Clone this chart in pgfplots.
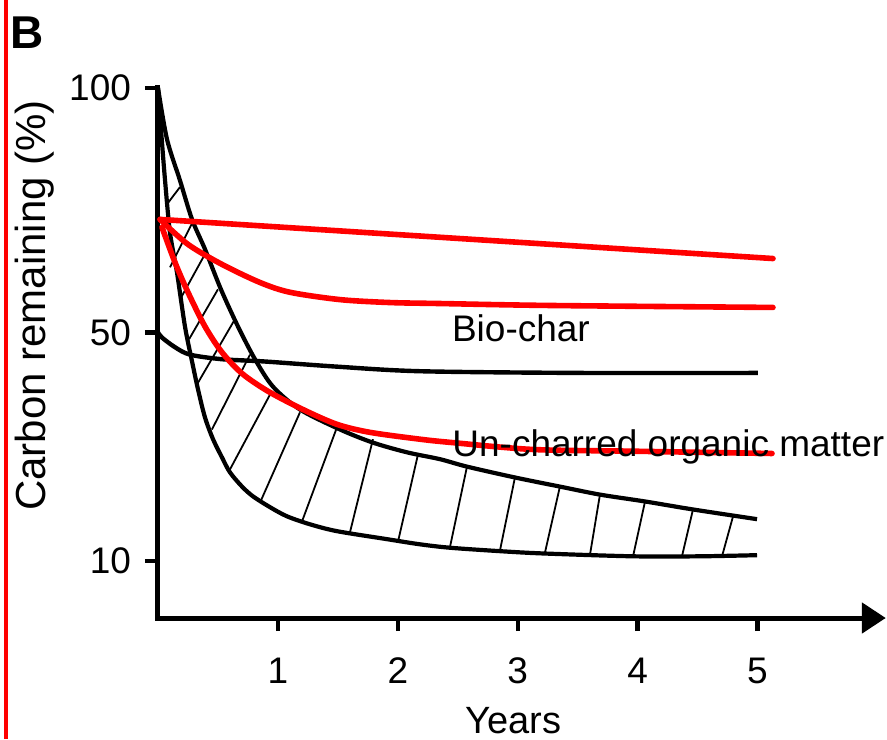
\documentclass[border=0pt]{standalone}
\usepackage{pgfplots}
\pgfplotsset{compat=1.18}
\usepackage{pgfplotstable}
\usepackage{fontspec}
\setmainfont{Liberation Sans}
\usetikzlibrary{arrows.meta}

% Carbon remaining (%) against years
\pgfplotstableread{
x y
0     100
0.075 89.5
0.183 81.1
0.284 73.1
0.392 67.0
0.525 58.8
0.667 51.2
0.809 45.3
0.959 40.5
1.184 36.5
1.518 33.0
1.793 30.7
2.077 29.0
2.352 27.8
2.577 26.5
2.977 24.6
3.353 23.0
3.686 21.6
4.062 20.4
4.462 19.0
4.996 17.3
}\uncharredhigh

\pgfplotstableread{
x y
0     100
0.025 91.5
0.058 81.3
0.100 70.4
0.158 62.3
0.225 51.2
0.284 44.9
0.334 40.0
0.392 35.1
0.459 31.3
0.534 28.1
0.600 25.5
0.701 23.0
0.792 21.3
0.934 19.4
1.076 17.8
1.268 16.4
1.493 15.2
1.910 13.8
2.185 12.9
2.435 12.3
2.852 11.7
3.211 11.3
3.962 10.8
4.520 10.8
4.996 11.0
}\uncharredlow

\pgfplotstableread{
x y
0     50
0.033 49.1
0.142 47.4
0.267 46.1
0.534 45.3
0.892 44.9
1.493 44.0
2.185 43.2
3.520 42.9
5.004 42.9
}\biochar

\pgfplotstableread{
x y
0.017 73.1
5.129 65.1
}\redtop

\pgfplotstableread{
x y
0.017 73.1
0.250 68.0
0.534 63.9
0.851 60.2
1.101 58.2
1.518 56.7
1.935 56.1
2.352 55.9
3.269 55.5
5.129 55.1
}\redmid

\pgfplotstableread{
x y
0.033 71.5
0.142 64.3
0.250 58.2
0.392 51.2
0.534 46.5
0.701 42.8
0.917 39.7
1.209 36.5
1.493 33.9
1.768 32.5
2.185 31.3
2.460 30.7
3.128 29.5
3.962 29.2
5.121 28.8
}\redlow

\begin{document}
\begin{tikzpicture}
\path[use as bounding box] (-79pt,-60.5pt) rectangle (364.5pt,309pt);
\begin{axis}[
  at={(0pt,0pt)}, anchor=south west,
  x=59.95pt, y=0.5pt,
  xmin=0, xmax=6.07, ymin=0, ymax=100,
  y coord trafo/.code={\pgfmathparse{(#1<50) ? (#1-50)*5.7125 : (#1-50)*4.89}},
  y coord inv trafo/.code={\pgfmathparse{(#1<0) ? #1/5.7125+50 : #1/4.89+50}},
  axis x line*=bottom, axis y line*=left,
  axis line style={line width=2.5pt, line cap=rect},
  x axis line style={-{Triangle[length=12pt,width=15pt]}},
  xtick={1,2,3,4,5},
  ytick={10,50,100}, yticklabels={10,50,100},
  tick align=outside, major tick length=6.5pt,
  tick style={line width=2.2pt, black},
  xticklabel shift=10pt, yticklabel shift=3.5pt,
  /pgf/number format/assume math mode=true,
  ticklabel style={font=\fontsize{18.5}{22}\selectfont},
  xlabel={Years}, ylabel={Carbon remaining (\%)},
  every axis x label/.style={at={(axis description cs:0.4885,-0.217)}, anchor=base,
    inner sep=0pt, font=\fontsize{19}{22}\selectfont},
  every axis y label/.style={at={(axis description cs:-0.169,0.5895)}, anchor=center,
    rotate=90, font=\fontsize{21}{25}\selectfont},
  clip=false,
]
% hatching between the two bounds of un-charred matter
\addplot[black, line width=0.9pt] coordinates {(0.075,76.2) (0.183,79.7)};
\addplot[black, line width=0.9pt] coordinates {(0.100,63.3) (0.292,72.7)};
\addplot[black, line width=0.9pt] coordinates {(0.183,56.7) (0.392,66.0)};
\addplot[black, line width=0.9pt] coordinates {(0.259,48.8) (0.500,58.8)};
\addplot[black, line width=0.9pt] coordinates {(0.334,41.2) (0.642,52.7)};
\addplot[black, line width=0.9pt] coordinates {(0.450,33.0) (0.767,46.1)};
\addplot[black, line width=0.9pt] coordinates {(0.600,26.0) (0.934,39.1)};
\addplot[black, line width=0.9pt] coordinates {(0.851,20.2) (1.184,36.0)};
\addplot[black, line width=0.9pt] coordinates {(1.201,16.9) (1.493,33.4)};
\addplot[black, line width=0.9pt] coordinates {(1.601,15.0) (1.793,31.3)};
\addplot[black, line width=0.9pt] coordinates {(2.002,13.4) (2.168,28.6)};
\addplot[black, line width=0.9pt] coordinates {(2.435,12.4) (2.577,26.5)};
\addplot[black, line width=0.9pt] coordinates {(2.852,11.8) (2.977,24.6)};
\addplot[black, line width=0.9pt] coordinates {(3.228,11.5) (3.353,23.1)};
\addplot[black, line width=0.9pt] coordinates {(3.603,11.1) (3.686,21.6)};
\addplot[black, line width=0.9pt] coordinates {(3.962,10.8) (4.062,20.4)};
\addplot[black, line width=0.9pt] coordinates {(4.370,10.8) (4.462,19.0)};
\addplot[black, line width=0.9pt] coordinates {(4.704,10.8) (4.796,17.8)};
% bounds and bio-char
\addplot[black, line width=2.1pt, smooth, tension=0.5] table {\uncharredhigh};
\addplot[black, line width=2.1pt, smooth, tension=0.5] table {\uncharredlow};
\addplot[black, line width=2.2pt, smooth, tension=0.5] table {\biochar};
% red decay curves
\addplot[red, line width=2.8pt, line cap=round] table {\redtop};
\addplot[red, line width=2.8pt, line cap=round, smooth, tension=0.5] table {\redmid};
\addplot[red, line width=2.8pt, line cap=round, smooth, tension=0.5] table {\redlow};
\node[anchor=base west, inner sep=0pt, font=\fontsize{18.5}{22}\selectfont]
  at (axis cs:2.449,48.48) {Bio-char};
\node[anchor=base west, inner sep=0pt, font=\fontsize{18.5}{22}\selectfont]
  at (axis cs:2.452,28.35) {Un-charred organic matter};
\end{axis}
\draw[red, line width=2pt] (-76pt,-60.5pt) -- (-76pt,309pt);
\node[anchor=base west, inner sep=0pt, font=\fontsize{23}{26}\selectfont\bfseries]
  at (-74pt,284.5pt) {B};
\end{tikzpicture}
\end{document}
